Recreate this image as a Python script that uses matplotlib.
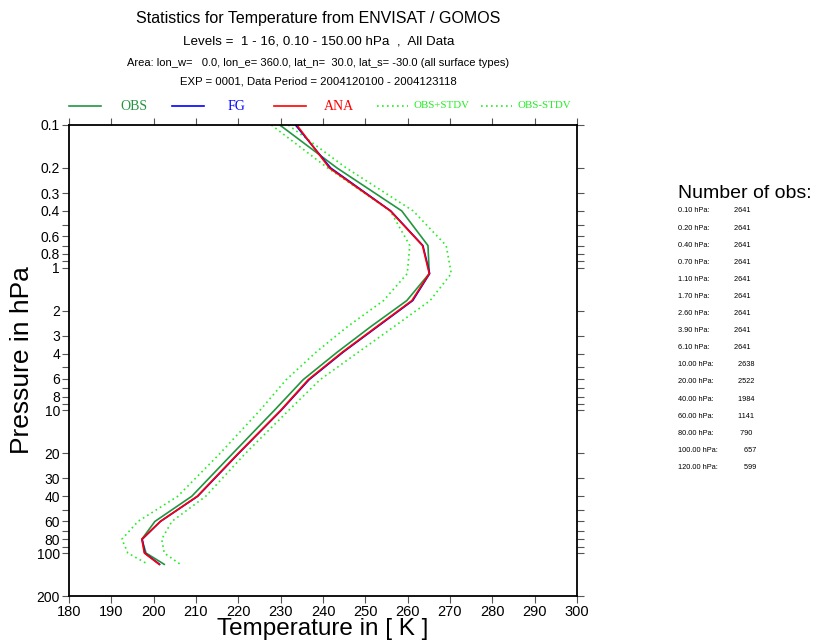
import matplotlib
matplotlib.use("Agg")
import matplotlib.pyplot as plt
from matplotlib.lines import Line2D
from matplotlib.ticker import FixedLocator, NullFormatter
import numpy as np

# pressure levels (hPa) and profiles (K)
levels = [0.1, 0.2, 0.4, 0.7, 1.1, 1.7, 2.6, 3.9, 6.1, 10, 20, 40, 60, 80, 100, 120]
obs = [229.8, 243.3, 258.6, 264.8, 265.1, 259.8, 251.2, 243.4, 235.3, 228.5,
       218.7, 209.0, 200.3, 197.2, 198.2, 202.5]
fg = [233.5, 241.8, 256.0, 263.6, 265.2, 261.2, 252.8, 244.8, 236.7, 230.1,
      220.1, 210.4, 201.6, 197.3, 197.9, 201.4]
ana = [233.8, 241.5, 255.9, 263.5, 265.1, 261.0, 252.6, 244.6, 236.5, 230.0,
       220.0, 210.3, 201.6, 197.2, 197.8, 201.3]
stdv = [2.0, 2.2, 2.7, 4.3, 5.2, 5.5, 5.5, 5.0, 4.0, 3.4, 3.0, 3.3, 4.0, 4.7, 4.3, 3.8]
nobs = [2641, 2641, 2641, 2641, 2641, 2641, 2641, 2641, 2641, 2638, 2522, 1984,
        1141, 790, 657, 599]

ytick_major = [0.1, 0.2, 0.3, 0.4, 0.6, 0.8, 1, 2, 3, 4, 6, 8, 10, 20, 30, 40, 60, 80, 100, 200]
ytick_minor = [0.5, 0.7, 0.9, 5, 7, 9, 50, 70, 90]
xticks = list(range(180, 301, 10))

W, H = 822, 644
SANS = "Liberation Sans"
SERIF = "Liberation Serif"

GREEN = "#23953f"
LIME = "#22ee22"
DOTS = (0, (1, 2))


def fx(x):
    return x / W


def fy(y):
    return 1 - y / H


fig = plt.figure(figsize=(W / 100, H / 100), dpi=100)
ax = fig.add_axes([fx(69), fy(596), (577 - 69) / W, (596 - 125) / H])

obs_a = np.array(obs)
std_a = np.array(stdv)
ax.plot(obs_a + std_a, levels, color=LIME, lw=1.2, linestyle=DOTS)
ax.plot(obs_a - std_a, levels, color=LIME, lw=1.2, linestyle=DOTS)
ax.plot(obs, levels, color=GREEN, lw=1.2)
ax.plot(fg, levels, color="#0000ff", lw=1.2)
ax.plot(ana, levels, color="#ff0000", lw=1.2)

ax.set_yscale("log")
ax.set_ylim(200, 0.1)
ax.set_xlim(180, 300)
ax.yaxis.set_major_locator(FixedLocator(ytick_major))
ax.yaxis.set_minor_locator(FixedLocator(ytick_minor))
ax.yaxis.set_minor_formatter(NullFormatter())
ax.set_yticklabels([("%g" % v) for v in ytick_major], fontfamily=SANS, fontsize=10)
ax.set_xticks(xticks)
ax.set_xticklabels([str(v) for v in xticks], fontfamily=SANS, fontsize=10.5)
ax.tick_params(which="both", direction="out", length=5, width=0.8, color="#555555",
               top=True, right=True, pad=1.5)
for s in ax.spines.values():
    s.set_linewidth(1.3)

fig.text(fx(323), fy(629), "Temperature in [ K ]", ha="center", va="center",
         fontfamily=SANS, fontsize=17.5)
fig.text(fx(22), fy(360), "Pressure in hPa", rotation=90, ha="center", va="center",
         fontfamily=SANS, fontsize=19)

# header
cx = fx(318.5)
fig.text(cx, fy(18), "Statistics for Temperature from ENVISAT / GOMOS", ha="center",
         va="center", fontfamily=SANS, fontsize=11.5)
fig.text(cx, fy(42), "Levels =  1 - 16, 0.10 - 150.00 hPa  ,  All Data", ha="center",
         va="center", fontfamily=SANS, fontsize=9.6)
fig.text(cx, fy(62.5), "Area: lon_w=   0.0, lon_e= 360.0, lat_n=  30.0, lat_s= -30.0 (all surface types)",
         ha="center", va="center", fontfamily=SANS, fontsize=8)
fig.text(cx, fy(81), "EXP = 0001, Data Period = 2004120100 - 2004123118", ha="center",
         va="center", fontfamily=SANS, fontsize=8.2)

# legend row
ly = fy(106)
legend_items = [
    (69, 101, GREEN, "-", "OBS", 133.5, 10),
    (172, 204, "#0000ff", "-", "FG", 236.5, 10),
    (274, 306, "#ff0000", "-", "ANA", 338.5, 10),
    (377, 408, LIME, ":", "OBS+STDV", 441, 7.8),
    (481, 512, LIME, ":", "OBS-STDV", 544, 7.8),
]
for x0, x1, col, ls, lab, tx, fs in legend_items:
    lstyle = DOTS if ls == ":" else "-"
    fig.add_artist(Line2D([fx(x0), fx(x1)], [ly, ly], color=col, lw=1.2,
                          linestyle=lstyle, transform=fig.transFigure))
    fig.text(fx(tx), ly, lab, ha="center", va="center", color=col,
             fontfamily=SERIF, fontsize=fs)

# number of obs panel
fig.text(fx(678), fy(193), "Number of obs:", ha="left", va="center",
         fontfamily=SANS, fontsize=14)
renderer = fig.canvas.get_renderer()
for i, (p, n) in enumerate(zip(levels, nobs)):
    yy = fy(211 + 17.1 * i)
    t = fig.text(fx(678), yy, "%.2f hPa:" % p, ha="left", va="center",
                 fontfamily=SANS, fontsize=5.3)
    x_end = t.get_window_extent(renderer).x1
    fig.text((x_end + 22.5) / W, yy, "%5d" % n, ha="left", va="center",
             fontfamily=SANS, fontsize=5.3)

fig.savefig("out.png", dpi=100)
